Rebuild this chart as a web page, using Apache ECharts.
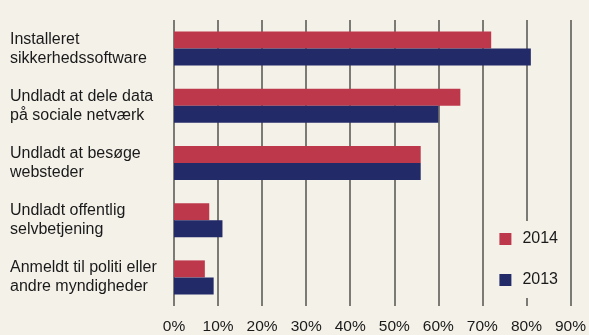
<!DOCTYPE html>
<html>
<head>
<meta charset="utf-8">
<script src="https://cdn.jsdelivr.net/npm/echarts@6/dist/echarts.min.js"></script>
<style>
  html, body { margin: 0; padding: 0; background: #f4f1e9; }
  #chart { width: 589px; height: 335px; }
</style>
</head>
<body>
<div id="chart"></div>
<script>
// Online safety measures, share of respondents (%)
const categories = [
  'Installeret\nsikkerhedssoftware',
  'Undladt at dele data\npå sociale netværk',
  'Undladt at besøge\nwebsteder',
  'Undladt offentlig\nselvbetjening',
  'Anmeldt til politi eller\nandre myndigheder'
];
const values2014 = [72, 65, 56, 8, 7];
const values2013 = [81, 60, 56, 11, 9];
const seriesNames = ['2014', '2013'];
const xTicks = [0, 10, 20, 30, 40, 50, 60, 70, 80, 90];

const font = 'Liberation Sans, Arial, sans-serif';
const chart = echarts.init(document.getElementById('chart'), null, { renderer: 'canvas' });

chart.setOption({
  backgroundColor: '#f4f1e9',
  animation: false,
  textStyle: { fontFamily: font },
  grid: { left: 174, right: 16, top: 20, bottom: 27, containLabel: false },
  legend: {
    data: seriesNames,
    orient: 'vertical',
    right: 21,
    top: 221,
    itemWidth: 12,
    itemHeight: 12,
    itemGap: 25,
    padding: [10, 10, 10, 14],
    backgroundColor: '#f4f1e9',
    icon: 'rect',
    textStyle: { fontSize: 16, color: '#1a1a1a', fontFamily: font, padding: [0, 0, 0, 6] },
    z: 10
  },
  xAxis: {
    type: 'value',
    min: xTicks[0],
    max: xTicks[xTicks.length - 1],
    interval: 10,
    axisLine: { show: false },
    axisTick: { show: false },
    axisLabel: {
      formatter: v => v + '%',
      fontSize: 15.5,
      color: '#1a1a1a',
      margin: 13,
      fontFamily: font
    },
    splitLine: { show: true, lineStyle: { color: '#55524d', width: 1.5 } }
  },
  yAxis: {
    type: 'category',
    data: categories,
    inverse: true,
    axisLine: { show: false },
    axisTick: { show: false },
    axisLabel: {
      align: 'left',
      margin: 164,
      fontSize: 16,
      lineHeight: 19,
      color: '#1a1a1a',
      fontFamily: font
    }
  },
  series: [
    {
      name: seriesNames[0],
      type: 'bar',
      data: values2014,
      barWidth: 17,
      barGap: '0%',
      itemStyle: { color: '#bd384b' }
    },
    {
      name: seriesNames[1],
      type: 'bar',
      data: values2013,
      barWidth: 17,
      barGap: '0%',
      itemStyle: { color: '#232a68' }
    }
  ]
});
</script>
</body>
</html>
